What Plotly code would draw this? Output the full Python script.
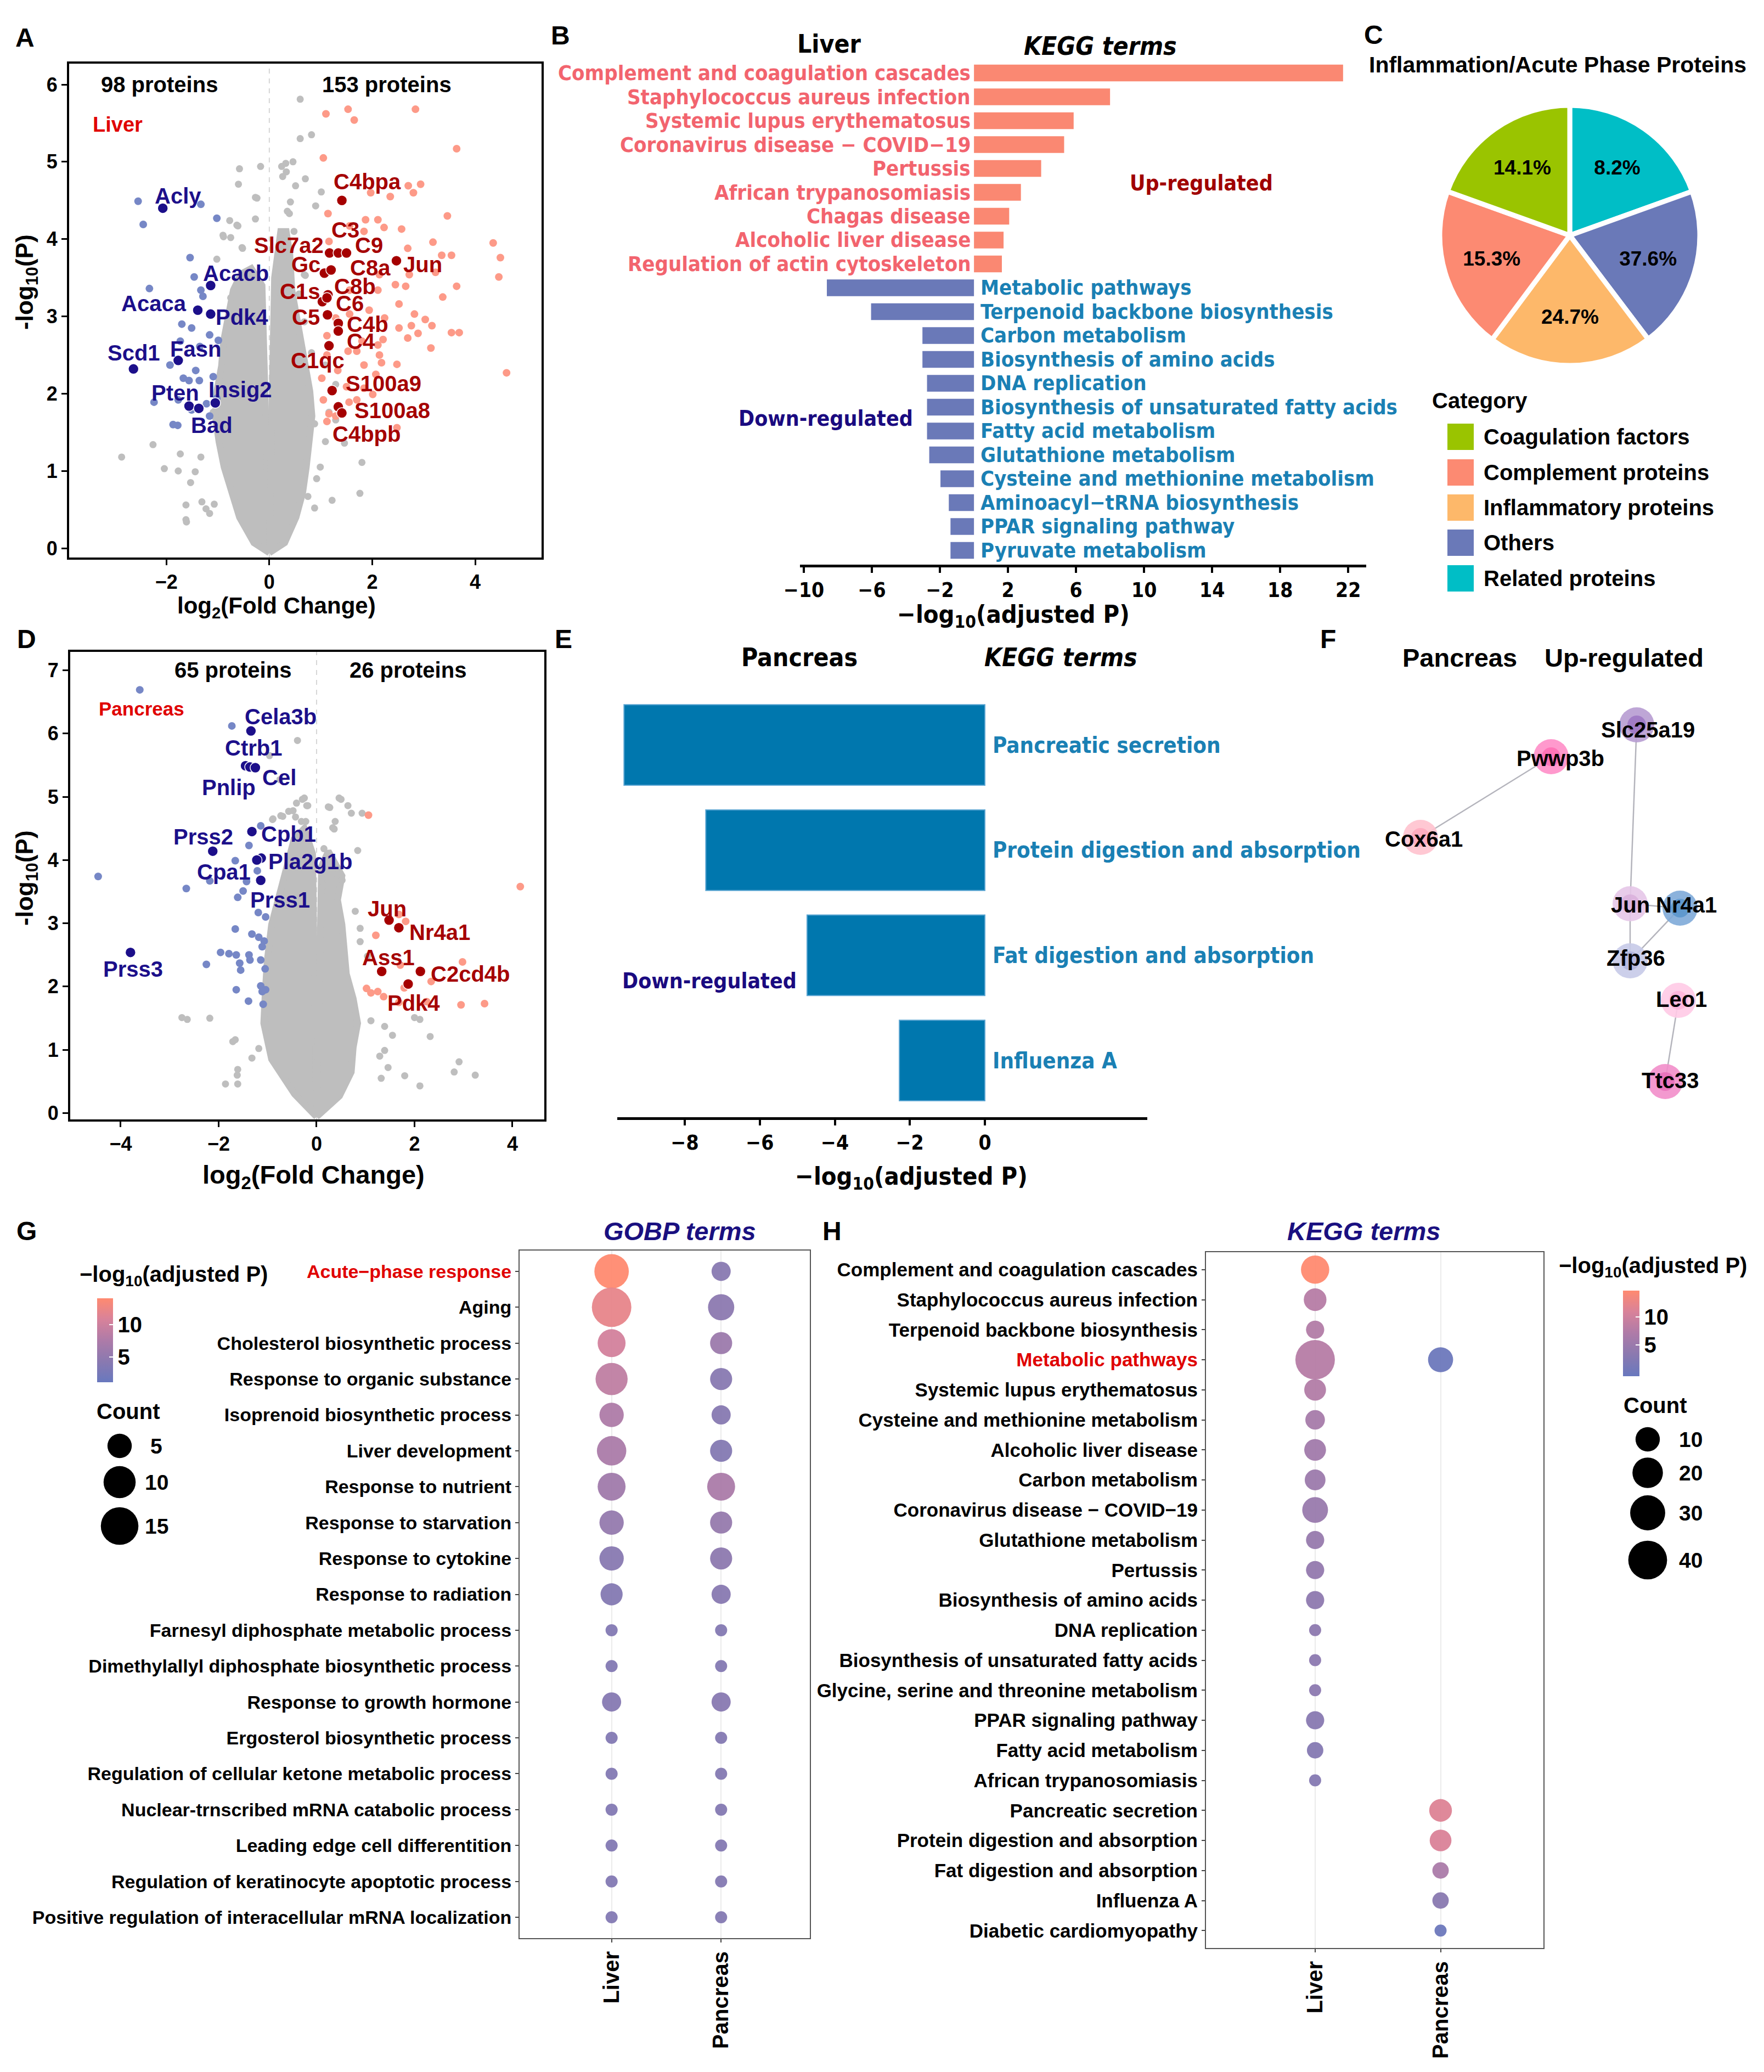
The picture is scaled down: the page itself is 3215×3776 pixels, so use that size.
import math
import plotly.graph_objects as go

W, H = 3215, 3776
def px(x): return x / W
def py(y): return 1 - y / H

SANS = "Liberation Sans, Arial, Helvetica, sans-serif"
NARROW = "DejaVu Sans Condensed, Liberation Sans Narrow, sans-serif"
NAVY = "#1C0F8A"; DARKRED = "#A50000"; RED = "#E00000"
GREY = "#BEBEBE"; LIGHTBLUE = "#7687C6"; SALMON = "#FD9A88"

# ---------------- Panel A data (liver volcano) ----------------
a_cloud_left = [(0, -0.06), (-0.30, 0.07), (-0.58, 0.40), (-0.72, 0.72), (-0.88, 1.05), (-0.98, 1.38), (-1.05, 1.71),
                (-1.02, 2.03), (-0.93, 2.36), (-0.89, 2.68), (-0.80, 3.01), (-0.70, 3.34), (-0.55, 3.55), (-0.35, 3.62),
                (-0.14, 3.40), (-0.10, 2.68), (-0.07, 1.71), (-0.03, 0.72), (0, 0.3)]
a_cloud_right = [(0, -0.06), (0.30, 0.07), (0.52, 0.40), (0.65, 0.72), (0.72, 1.05), (0.79, 1.38), (0.83, 1.71),
                 (0.79, 2.03), (0.70, 2.36), (0.61, 2.68), (0.52, 3.01), (0.44, 3.34), (0.40, 3.80), (0.33, 4.10),
                 (0.22, 4.10), (0.10, 3.50), (0.07, 2.50), (0.05, 1.50), (0.03, 0.70), (0, 0.3)]
a_grey = [(0.60, 5.81), (0.60, 5.30), (0.82, 5.35), (-0.17, 4.94), (-0.58, 4.91), (-0.60, 4.71), (0.46, 5.00), (0.26, 4.81),
          (0.33, 4.87), (0.70, 4.78), (-0.24, 4.53), (1.01, 4.61), (0.90, 4.43), (-0.77, 4.24), (-0.61, 4.17), (-0.90, 4.05),
          (-0.75, 4.02), (-0.52, 3.88), (0.39, 4.33), (0.48, 4.10), (0.41, 4.48), (-2.87, 1.18), (-2.26, 1.34), (-2.04, 1.03),
          (-1.77, 1.00), (-1.73, 1.22), (-1.61, 0.34), (1.80, 1.11), (1.76, 0.71), (1.22, 0.62), (0.92, 0.90), (0.99, 1.05),
          (1.09, 1.38), (1.46, 1.36), (0.88, 0.52), (0.75, 0.67), (-1.16, 0.45), (-1.31, 0.60), (-1.53, 0.85), (-1.33, 1.18),
          (-1.07, 0.57), (1.16, 1.76), (1.29, 2.12), (0.68, 3.54), (0.58, 3.29), (0.75, 2.02), (0.88, 1.61), (-0.95, 2.02),
          (-1.09, 1.76), (-0.88, 1.51), (-1.02, 3.74), (-0.48, 3.54), (-0.75, 3.24), (0.54, 2.68), (0.68, 2.93), (0.82, 2.53),
          (1.09, 2.37), (1.29, 1.66), (-0.27, 4.54), (0.24, 4.94), (0.32, 4.98), (0.51, 4.69), (0.35, 4.36), (-0.27, 4.26),
          (-0.63, 4.18), (-0.89, 4.03), (-0.53, 3.89), (0.22, 3.63), (0.70, 3.53), (-1.62, 0.56), (-1.62, 0.37), (-1.23, 0.51),
          (-1.44, 0.99)]
a_down_light = [(-2.55, 4.49), (-2.45, 4.19), (-1.33, 4.45), (-1.02, 4.27), (-1.54, 3.76), (-2.33, 3.36), (-1.33, 3.34),
                (-1.46, 3.51), (-1.70, 2.90), (-1.51, 2.85), (-1.16, 2.76), (-0.99, 2.69), (-1.73, 2.68), (-1.35, 2.61),
                (-1.93, 2.37), (-1.67, 2.20), (-1.56, 2.17), (-1.36, 2.17), (-1.09, 2.22), (-1.43, 2.30), (-2.24, 1.89),
                (-1.77, 1.92), (-1.51, 1.79), (-1.22, 1.87), (-1.02, 1.94), (-1.87, 1.60), (-1.78, 1.59), (-1.16, 1.71),
                (-1.29, 3.26), (-1.16, 3.03)]
a_up_light = [(1.10, 5.62), (1.53, 5.68), (1.65, 5.54), (2.84, 5.68), (1.05, 5.05), (3.64, 5.17), (2.70, 4.69), (2.94, 4.71),
              (2.80, 4.60), (2.35, 4.55), (1.97, 4.60), (1.14, 4.33), (1.87, 4.25), (2.11, 4.25), (3.46, 4.30), (1.56, 4.17),
              (1.84, 4.10), (2.23, 4.15), (2.57, 4.13), (1.16, 3.97), (2.69, 3.88), (3.18, 3.96), (4.35, 3.95), (3.35, 3.79),
              (3.54, 3.79), (4.49, 3.76), (4.46, 3.51), (2.14, 3.54), (2.72, 3.54), (3.23, 3.57), (3.64, 3.39), (2.45, 3.41),
              (2.65, 3.39), (2.11, 3.34), (3.37, 3.25), (1.56, 3.34), (2.52, 3.16), (2.82, 3.03), (3.03, 2.96), (3.16, 2.88),
              (2.76, 2.88), (2.52, 2.85), (3.54, 2.79), (3.69, 2.79), (2.89, 2.78), (2.69, 2.72), (2.21, 2.70), (2.11, 2.63),
              (1.80, 2.68), (1.53, 2.55), (1.70, 2.55), (3.14, 2.59), (2.14, 2.50), (2.18, 2.40), (2.48, 2.38), (1.84, 2.37),
              (1.12, 2.75), (1.12, 2.50), (1.33, 2.30), (4.61, 2.27), (2.07, 2.25), (1.02, 2.20), (1.50, 2.09), (1.84, 2.07),
              (2.01, 1.99), (1.70, 1.92), (1.05, 1.92), (1.16, 1.74), (1.55, 1.89), (2.48, 1.56), (1.12, 1.64), (1.29, 1.71),
              (1.56, 3.03), (1.29, 2.98), (1.94, 3.08), (2.24, 2.98)]
a_down_genes = ["Acly", "Acacb", "Acaca", "Pdk4", "Scd1", "Fasn", "Pten", "Bad", "Insig2"]
a_down_x = [-2.07, -1.14, -1.39, -1.14, -2.64, -1.77, -1.56, -1.37, -1.05]
a_down_y = [4.40, 3.40, 3.08, 3.03, 2.32, 2.43, 1.84, 1.81, 1.88]
a_up_genes = ["C4bpa", "Slc7a2", "C3", "C9", "Gc", "C8a", "Jun", "C8b", "C1s", "C6", "C5", "C4b", "C4", "C1qc",
              "S100a9", "S100a8", "C4bpb"]
a_up_x = [1.41, 1.17, 1.34, 1.50, 1.07, 1.20, 2.47, 1.14, 1.03, 1.12, 1.13, 1.34, 1.34, 1.16, 1.22, 1.34, 1.41]
a_up_y = [4.50, 3.82, 3.82, 3.82, 3.56, 3.60, 3.72, 3.28, 3.19, 3.24, 3.02, 2.91, 2.81, 2.62, 2.04, 1.83, 1.75]

# ---------------- Panel D data (pancreas volcano) ----------------
d_cloud_left = [(0, -0.06), (-0.45, 0.30), (-0.92, 0.85), (-1.08, 1.42), (-1.05, 1.90), (-1.01, 2.40), (-0.92, 2.98),
                (-0.73, 3.56), (-0.60, 3.95), (-0.46, 4.33), (-0.25, 4.50), (-0.08, 4.10), (-0.06, 3.00), (-0.04, 2.00),
                (-0.02, 1.00), (0, 0.4)]
d_cloud_right = [(0, -0.06), (0.47, 0.27), (0.71, 0.65), (0.75, 1.04), (0.84, 1.42), (0.75, 1.81), (0.61, 2.20),
                 (0.56, 2.59), (0.52, 2.98), (0.43, 3.37), (0.52, 3.75), (0.24, 4.14), (0.10, 3.90), (0.08, 3.00),
                 (0.06, 2.00), (0.03, 1.00), (0, 0.4)]
d_grey = [(-0.39, 5.89), (-0.96, 5.65), (-0.75, 5.27), (-0.25, 4.98), (-0.18, 4.86), (0.46, 4.98), (0.27, 4.83), (0.64, 4.86),
          (0.93, 4.74), (0.38, 4.61), (0.36, 4.49), (-0.43, 4.68), (-0.57, 4.77), (-0.89, 4.65), (-0.69, 4.69), (0.84, 4.15),
          (-1.05, 1.46), (-2.75, 1.51), (-2.64, 1.48), (-2.18, 1.50), (-1.71, 1.13), (-1.66, 1.16), (-1.61, 0.69), (-1.62, 0.60),
          (-1.61, 0.46), (-1.86, 0.46), (-1.32, 0.87), (-1.18, 1.02), (0.79, 3.19), (0.89, 2.92), (0.89, 2.71), (1.04, 2.48),
          (2.00, 1.51), (2.11, 1.48), (2.32, 1.21), (2.91, 0.81), (2.81, 0.65), (3.24, 0.60), (2.11, 0.43), (1.80, 0.59),
          (1.55, 1.23), (1.39, 0.99), (1.46, 0.72), (1.32, 0.55), (1.11, 1.46), (1.39, 1.37), (1.29, 0.90), (-0.29, 4.96),
          (-0.20, 4.86), (-0.41, 4.90), (0.24, 4.84), (0.50, 4.96), (0.71, 4.74), (0.33, 4.51), (-0.48, 4.78), (-0.73, 4.70),
          (-0.90, 4.64), (-0.31, 4.61), (-0.22, 4.61), (0.15, 4.18), (0.43, 3.77), (0.52, 3.68), (0.15, 3.60)]
d_down_light = [(-3.61, 6.69), (-1.73, 6.12), (-4.46, 3.74), (-2.66, 3.55), (-1.66, 3.99), (-1.38, 4.23), (-1.14, 4.54),
                (-2.18, 3.67), (-1.61, 3.41), (-1.50, 3.51), (-1.43, 3.66), (-1.21, 3.83), (-1.19, 3.17), (-1.04, 3.10),
                (-1.66, 2.91), (-1.32, 2.83), (-1.18, 2.78), (-1.07, 2.72), (-1.11, 2.63), (-1.96, 2.54), (-1.79, 2.52),
                (-1.64, 2.50), (-1.38, 2.50), (-1.36, 2.42), (-1.14, 2.42), (-2.25, 2.35), (-1.57, 2.37), (-1.55, 2.26),
                (-1.05, 2.28), (-1.14, 2.01), (-1.04, 1.95), (-1.64, 1.95), (-1.39, 1.77), (-1.09, 1.72), (-1.11, 1.92)]
d_up_light = [(1.06, 4.71), (4.16, 3.58), (1.68, 3.14), (1.82, 3.03), (1.21, 2.81), (1.71, 2.34), (2.98, 2.39), (2.34, 2.08),
              (1.02, 1.97), (1.11, 1.90), (1.25, 1.92), (1.37, 1.84), (1.79, 1.98), (1.68, 1.75), (2.95, 1.71), (3.43, 1.73),
              (2.25, 1.76)]
d_down_genes = ["Cela3b", "Ctrb1", "Pnlip", "Cel", "Cpb1", "Prss2", "Pla2g1b", "Cpa1", "Prss1", "Prss3"]
d_down_x = [-1.34, -1.45, -1.36, -1.25, -1.32, -2.12, -1.13, -1.22, -1.14, -3.80]
d_down_y = [6.04, 5.49, 5.47, 5.46, 4.45, 4.14, 4.03, 4.00, 3.68, 2.54]
d_up_genes = ["Jun", "Nr4a1", "Ass1", "C2cd4b", "Pdk4"]
d_up_x = [1.48, 1.68, 1.33, 2.12, 1.87]
d_up_y = [3.05, 2.93, 2.24, 2.24, 2.04]

# ---------------- Panel B data ----------------
b_terms = ["Complement and coagulation cascades", "Staphylococcus aureus infection", "Systemic lupus erythematosus",
           "Coronavirus disease − COVID−19", "Pertussis", "African trypanosomiasis", "Chagas disease",
           "Alcoholic liver disease", "Regulation of actin cytoskeleton", "Metabolic pathways",
           "Terpenoid backbone biosynthesis", "Carbon metabolism", "Biosynthesis of amino acids", "DNA replication",
           "Biosynthesis of unsaturated fatty acids", "Fatty acid metabolism", "Glutathione metabolism",
           "Cysteine and methionine metabolism", "Aminoacyl−tRNA biosynthesis", "PPAR signaling pathway",
           "Pyruvate metabolism"]
b_values = [21.7, 8.0, 5.86, 5.30, 3.95, 2.76, 2.07, 1.74, 1.64, -8.65, -6.05, -3.03, -3.03, -2.76, -2.76, -2.76,
            -2.63, -1.97, -1.48, -1.38, -1.38]
b_ticks = [-10, -6, -2, 2, 6, 10, 14, 18, 22]

# ---------------- Panel C data ----------------
pie_categories = ["Coagulation factors", "Complement proteins", "Inflammatory proteins", "Others", "Related proteins"]
pie_percent_labels = ["14.1%", "15.3%", "24.7%", "37.6%", "8.2%"]
pie_slice_sizes = [19.5, 20.3, 20.5, 20.2, 19.5]
pie_colors = ["#9AC400", "#FC8A72", "#FDB86A", "#6A79B8", "#00BEC6"]

# ---------------- Panel E data ----------------
e_terms = ["Pancreatic secretion", "Protein digestion and absorption", "Fat digestion and absorption", "Influenza A"]
e_values = [-9.62, -7.44, -4.74, -2.28]
e_ticks = [-8, -6, -4, -2, 0]

# ---------------- Panel F data (network) ----------------
net_nodes = ["Slc25a19", "Pwwp3b", "Cox6a1", "Jun", "Nr4a1", "Zfp36", "Leo1", "Ttc33"]
net_x = [2983, 2827, 2589, 2971, 3062, 2971, 3059, 3035]
net_y = [1321, 1379, 1526, 1647, 1655, 1751, 1823, 1971]
net_edges = [("Cox6a1", "Pwwp3b"), ("Slc25a19", "Jun"), ("Jun", "Nr4a1"), ("Jun", "Zfp36"), ("Zfp36", "Nr4a1"),
             ("Leo1", "Ttc33")]
net_outer = ["#B79CD2", "#FF8EC8", "#FFC2CE", "#E6C6E8", "#7EAAD8", "#C6CAE8", "#FFCAE6", "#F28ECA"]
net_inner = ["#9A72C2", "#FF6AB2", "#FFA6BC", "#D8AEDB", "#5592CA", "#AEB2DC", "#FFB0D8", "#E86CB8"]

# ---------------- Panel G data ----------------
g_terms = ["Acute−phase response", "Aging", "Cholesterol biosynthetic process", "Response to organic substance",
           "Isoprenoid biosynthetic process", "Liver development", "Response to nutrient", "Response to starvation",
           "Response to cytokine", "Response to radiation", "Farnesyl diphosphate metabolic process",
           "Dimethylallyl diphosphate biosynthetic process", "Response to growth hormone",
           "Ergosterol biosynthetic process", "Regulation of cellular ketone metabolic process",
           "Nuclear-trnscribed mRNA catabolic process", "Leading edge cell differentition",
           "Regulation of keratinocyte apoptotic process", "Positive regulation of interacellular mRNA localization"]
g_liver_count = [12, 17, 7, 10, 5, 8, 7, 5, 5, 4, 2, 2, 3, 2, 2, 2, 2, 2, 2]
g_pancreas_count = [3, 6, 4, 4, 3, 4, 7, 4, 4, 3, 2, 2, 3, 2, 2, 2, 2, 2, 2]
g_liver_logp = [14.1, 12.1, 10.5, 8.9, 7.6, 7.3, 6.3, 5.3, 4.2, 3.8, 3.7, 3.7, 4.0, 3.7, 3.7, 3.7, 3.7, 3.7, 3.7]
g_pancreas_logp = [4.2, 4.5, 6.0, 4.2, 4.1, 3.8, 7.3, 5.4, 4.6, 4.2, 3.8, 3.8, 4.2, 3.8, 3.8, 3.8, 3.8, 3.8, 3.8]
g_count_breaks = [5, 10, 15]

# ---------------- Panel H data ----------------
h_terms = ["Complement and coagulation cascades", "Staphylococcus aureus infection", "Terpenoid backbone biosynthesis",
           "Metabolic pathways", "Systemic lupus erythematosus", "Cysteine and methionine metabolism",
           "Alcoholic liver disease", "Carbon metabolism", "Coronavirus disease − COVID−19", "Glutathione metabolism",
           "Pertussis", "Biosynthesis of amino acids", "DNA replication", "Biosynthesis of unsaturated fatty acids",
           "Glycine, serine and threonine metabolism", "PPAR signaling pathway", "Fatty acid metabolism",
           "African trypanosomiasis", "Pancreatic secretion", "Protein digestion and absorption",
           "Fat digestion and absorption", "Influenza A", "Diabetic cardiomyopathy"]
h_liver_count = [16, 8, 4, 42, 7, 5, 7, 6, 12, 4, 4, 4, 2, 2, 2, 4, 3, 2, None, None, None, None, None]
h_pancreas_count = [None, None, None, 11] + [None] * 14 + [8, 7, 3, 3, 2]
h_liver_logp = [14.6, 7.8, 7.4, 7.8, 7.4, 6.3, 5.7, 5.2, 4.9, 4.6, 4.2, 3.7, 3.6, 3.5, 3.5, 3.1, 2.7, 2.7,
                None, None, None, None, None]
h_pancreas_logp = [None, None, None, 0.0] + [None] * 14 + [11.3, 11.0, 6.7, 3.2, 0.1]
h_count_breaks = [10, 20, 30, 40]

DOT_CS = [[0, "#6878BE"], [0.25, "#8A79B0"], [0.5, "#AE7BA8"], [0.75, "#D8829A"], [1, "#FF8A70"]]

# ======================================================================
fig = go.Figure()
annotations = []
shapes = []


def text(x, y, s, size, color="black", family=SANS, xanchor="center", yanchor="middle", angle=0,
         italic=False, xref="paper", yref="paper", bold=True):
    if xref == "paper":
        x = px(x)
    if yref == "paper":
        y = py(y)
    annotations.append(dict(x=x, y=y, xref=xref, yref=yref, text=s, showarrow=False, xanchor=xanchor,
                            yanchor=yanchor, textangle=angle,
                            font=dict(size=size, color=color, family=family,
                                      weight="bold" if bold else "normal",
                                      style="italic" if italic else "normal")))


def pts(trace_pts, xa, ya, color, size, line=None):
    fig.add_trace(go.Scatter(x=[p[0] for p in trace_pts], y=[p[1] for p in trace_pts], mode="markers",
                             marker=dict(color=color, size=size, opacity=1, line=line or dict(width=0)),
                             xaxis=xa, yaxis=ya, hoverinfo="skip", showlegend=False))


def volcano(xa, ya, cl, cr, grey, dl, ul, dg, dx, dy, ug, ux, uy, dlab, ulab):
    for poly in (cl, cr):
        fig.add_trace(go.Scatter(x=[p[0] for p in poly] + [poly[0][0]], y=[p[1] for p in poly] + [poly[0][1]],
                                 mode="lines", fill="toself", fillcolor=GREY, line=dict(color=GREY, width=12),
                                 xaxis=xa, yaxis=ya, hoverinfo="skip", showlegend=False))
    pts(grey, xa, ya, GREY, 13)
    pts(dl, xa, ya, LIGHTBLUE, 14)
    pts(ul, xa, ya, SALMON, 14)
    pts(list(zip(dx, dy)), xa, ya, NAVY, 19, dict(color="white", width=1.5))
    pts(list(zip(ux, uy)), xa, ya, DARKRED, 19, dict(color="white", width=1.5))
    for g, (lx, ly) in zip(dg, dlab):
        text(lx, ly, g, 40, NAVY, xref=xa, yref=ya)
    for g, (lx, ly) in zip(ug, ulab):
        text(lx, ly, g, 40, DARKRED, xref=xa, yref=ya)
    shapes.append(dict(type="line", xref=xa, yref=ya + " domain", x0=0, x1=0, y0=0, y1=1,
                       line=dict(color="#D6D6D6", width=2, dash="dash"), layer="below"))


# label placements (layout only)
a_down_lab = [(-1.77, 4.56), (-0.65, 3.56), (-2.24, 3.17), (-0.53, 2.99), (-2.63, 2.53), (-1.43, 2.58),
              (-1.83, 2.01), (-1.12, 1.59), (-0.56, 2.05)]
a_up_lab = [(1.90, 4.74), (0.38, 3.92), (1.48, 4.12), (1.94, 3.92), (0.71, 3.67), (1.96, 3.63), (2.98, 3.67),
            (1.66, 3.39), (0.59, 3.32), (1.56, 3.17), (0.71, 2.99), (1.91, 2.90), (1.78, 2.68), (0.94, 2.43),
            (2.22, 2.13), (2.39, 1.78), (1.89, 1.48)]
d_down_lab = [(-0.73, 6.27), (-1.29, 5.77), (-1.79, 5.15), (-0.76, 5.30), (-0.57, 4.41), (-2.31, 4.37),
              (-0.13, 3.98), (-1.89, 3.81), (-0.74, 3.37), (-3.75, 2.28)]
d_up_lab = [(1.44, 3.23), (2.52, 2.86), (1.47, 2.46), (3.14, 2.20), (1.98, 1.74)]

volcano("x", "y", a_cloud_left, a_cloud_right, a_grey, a_down_light, a_up_light, a_down_genes, a_down_x, a_down_y,
        a_up_genes, a_up_x, a_up_y, a_down_lab, a_up_lab)
volcano("x3", "y3", d_cloud_left, d_cloud_right, d_grey, d_down_light, d_up_light, d_down_genes, d_down_x, d_down_y,
        d_up_genes, d_up_x, d_up_y, d_down_lab, d_up_lab)

# ---------------- B bars ----------------
B_UP, B_DOWN = "#FA8872", "#6A79B8"
B_UP_TXT, B_DOWN_TXT = "#F2646E", "#1A80B4"
fig.add_trace(go.Bar(x=b_values, y=list(range(len(b_values))), orientation="h", width=0.7,
                     marker=dict(color=[B_UP if v > 0 else B_DOWN for v in b_values], line=dict(width=0)),
                     xaxis="x2", yaxis="y2", hoverinfo="skip", showlegend=False))
for i, (t, v) in enumerate(zip(b_terms, b_values)):
    if v > 0:
        annotations.append(dict(x=0, y=i, xref="x2", yref="y2", text=t, showarrow=False, xanchor="right",
                                yanchor="middle", xshift=-4,
                                font=dict(size=38, color=B_UP_TXT, family=NARROW, weight="bold")))
    else:
        annotations.append(dict(x=0, y=i, xref="x2", yref="y2", text=t, showarrow=False, xanchor="left",
                                yanchor="middle", xshift=10,
                                font=dict(size=38, color=B_DOWN_TXT, family=NARROW, weight="bold")))

# ---------------- E bars ----------------
fig.add_trace(go.Bar(x=e_values, y=list(range(len(e_values))), orientation="h", width=0.766,
                     marker=dict(color="#0077AE", line=dict(color="#5AA5D2", width=2)),
                     xaxis="x4", yaxis="y4", hoverinfo="skip", showlegend=False))
for i, t in enumerate(e_terms):
    annotations.append(dict(x=0, y=i, xref="x4", yref="y4", text=t, showarrow=False, xanchor="left",
                            yanchor="middle", xshift=12,
                            font=dict(size=40, color=B_DOWN_TXT, family=NARROW, weight="bold")))

# ---------------- C pie (drawn clockwise from 12 o'clock, legend order reversed) ----------------
fig.add_trace(go.Pie(values=pie_slice_sizes[::-1], labels=pie_categories[::-1], text=pie_percent_labels[::-1],
                     textinfo="text", textposition="inside", insidetextorientation="horizontal", sort=False,
                     direction="clockwise", rotation=0,
                     marker=dict(colors=pie_colors[::-1], line=dict(color="white", width=9)),
                     textfont=dict(size=37, family=SANS, color="black", weight="bold"),
                     domain=dict(x=[px(2624), px(3098)], y=[py(666), py(192)]),
                     hoverinfo="skip", showlegend=False))
leg_rows = [796, 861, 925, 989, 1054]
fig.add_trace(go.Scatter(x=[2662] * len(pie_categories), y=leg_rows, mode="markers",
                         marker=dict(symbol="square", size=48, color=pie_colors, opacity=1, line=dict(width=0)),
                         xaxis="x7", yaxis="y7", hoverinfo="skip", showlegend=False))
for cat, yy in zip(pie_categories, leg_rows):
    text(2702, yy, cat, 40, xanchor="left")
text(2608, 730, "Category", 40, xanchor="left")

# ---------------- F network ----------------
idx = {n: i for i, n in enumerate(net_nodes)}
ex, ey = [], []
for a, b in net_edges:
    ex += [net_x[idx[a]], net_x[idx[b]], None]
    ey += [net_y[idx[a]], net_y[idx[b]], None]
fig.add_trace(go.Scatter(x=ex, y=ey, mode="lines", line=dict(color="#B4B4BC", width=2.5),
                         xaxis="x7", yaxis="y7", hoverinfo="skip", showlegend=False))
fig.add_trace(go.Scatter(x=net_x, y=net_y, mode="markers", marker=dict(size=64, color=net_outer, opacity=0.9),
                         xaxis="x7", yaxis="y7", hoverinfo="skip", showlegend=False))
fig.add_trace(go.Scatter(x=net_x, y=net_y, mode="markers", marker=dict(size=34, color=net_inner, opacity=0.8),
                         xaxis="x7", yaxis="y7", hoverinfo="skip", showlegend=False))
net_label_shift = [(20, 9), (17, 3), (6, 3), (0, 2), (11, -6), (10, -5), (5, -2), (9, -2)]
for n, xx, yy, (sx, sy) in zip(net_nodes, net_x, net_y, net_label_shift):
    text(xx + sx, yy + sy, n, 40)


# ---------------- G / H dot plots ----------------
def dot_size(c, cmax_count):
    return 22 + 50 * math.sqrt((c - 2) / (cmax_count - 2))


def dotplot(xa, ya, liver_c, panc_c, liver_v, panc_v, cmax_count, cmin, cmax, cb):
    xs, ys, ss, cs = [], [], [], []
    for col, (cnts, vals) in enumerate(((liver_c, liver_v), (panc_c, panc_v)), start=1):
        for i, (c, v) in enumerate(zip(cnts, vals)):
            if c is None:
                continue
            xs.append(col); ys.append(i); ss.append(dot_size(c, cmax_count)); cs.append(v)
    fig.add_trace(go.Scatter(x=xs, y=ys, mode="markers",
                             marker=dict(size=ss, color=cs, colorscale=DOT_CS, cmin=cmin, cmax=cmax,
                                         showscale=True, line=dict(width=0), opacity=0.95, colorbar=cb),
                             xaxis=xa, yaxis=ya, hoverinfo="skip", showlegend=False))


def cbar(x0, y0, length, thick):
    return dict(thickness=thick, thicknessmode="pixels", len=length, lenmode="pixels",
                x=px(x0), xanchor="left", y=py(y0), yanchor="top", xpad=0, ypad=0, outlinewidth=0,
                tickvals=[5, 10], ticks="inside", ticklen=7, tickwidth=2, tickcolor="white",
                tickfont=dict(size=40, family=SANS, color="black", weight="bold"))


dotplot("x5", "y5", g_liver_count, g_pancreas_count, g_liver_logp, g_pancreas_logp, 17, 1.1, 14.1,
        cbar(177, 2366, 153, 29))
dotplot("x6", "y6", h_liver_count, h_pancreas_count, h_liver_logp, h_pancreas_logp, 42, -0.5, 14.6,
        cbar(2958, 2352, 156, 30))

# size legends
g_leg_y = [2635, 2701, 2781]
fig.add_trace(go.Scatter(x=[218] * 3, y=g_leg_y, mode="markers",
                         marker=dict(color="#000000", opacity=1, line=dict(width=0),
                                     size=[dot_size(c, 17) for c in g_count_breaks]),
                         xaxis="x7", yaxis="y7", hoverinfo="skip", showlegend=False))
for c, yy in zip(g_count_breaks, g_leg_y):
    text(285, yy, str(c), 39)
h_leg_y = [2623, 2684, 2757, 2843]
fig.add_trace(go.Scatter(x=[3003] * 4, y=h_leg_y, mode="markers",
                         marker=dict(color="#000000", opacity=1, line=dict(width=0),
                                     size=[dot_size(c, 42) for c in h_count_breaks]),
                         xaxis="x7", yaxis="y7", hoverinfo="skip", showlegend=False))
for c, yy in zip(h_count_breaks, h_leg_y):
    text(3081, yy, str(c), 39)

text(316, 2325, "−log<sub>10</sub>(adjusted P)", 40)
text(234, 2572, "Count", 40)
text(3012, 2309, "−log<sub>10</sub>(adjusted P)", 40)
text(3017, 2561, "Count", 40)

# ---------------- texts ----------------
for letter, x, y in [("A", 45, 68), ("B", 1021, 65), ("C", 2503, 64), ("D", 48, 1164), ("E", 1027, 1164),
                     ("F", 2420, 1164), ("G", 48, 2243), ("H", 1516, 2243)]:
    text(x, y, letter, 48)

text(290, 154, "98 proteins", 40)
text(705, 154, "153 proteins", 40)
text(214, 227, "Liver", 38, RED)
text(504, 1106, "log<sub>2</sub>(Fold Change)", 42)
text(48, 514, "-log<sub>10</sub>(P)", 44, angle=-90)

text(424, 1221, "65 proteins", 40)
text(743, 1221, "26 proteins", 40)
text(258, 1292, "Pancreas", 35, RED)
text(571, 2144, "log<sub>2</sub>(Fold Change)", 47)
text(48, 1600, "-log<sub>10</sub>(P)", 44, angle=-90)

text(1511, 80, "Liver", 46, family=NARROW)
text(2005, 84, "KEGG terms", 46, family=NARROW, italic=True)
text(2189, 333, "Up-regulated", 39, "#A00000", family=NARROW)
text(1505, 762, "Down-regulated", 39, "#1A0A80", family=NARROW)
text(1847, 1122, "−log<sub>10</sub>(adjusted P)", 45, family=NARROW)

text(2839, 118, "Inflammation/Acute Phase Proteins", 41)

text(1457, 1198, "Pancreas", 46, family=NARROW)
text(1933, 1198, "KEGG terms", 46, family=NARROW, italic=True)
text(1293, 1787, "Down-regulated", 39, "#1A0A80", family=NARROW)
text(1661, 2146, "−log<sub>10</sub>(adjusted P)", 45, family=NARROW)

text(2660, 1198, "Pancreas", 47)
text(2960, 1198, "Up-regulated", 47)

text(1239, 2243, "GOBP terms", 47, "#1A1080", italic=True)
text(2485, 2243, "KEGG terms", 47, "#1A1080", italic=True)

# ---------------- axes ----------------
vol = dict(showline=True, linecolor="black", linewidth=4, mirror=True, ticks="outside", ticklen=10, tickwidth=3,
           tickcolor="black", showgrid=False, zeroline=False,
           tickfont=dict(family=SANS, size=36, color="black", weight="bold"))
barx = dict(showline=True, linecolor="black", linewidth=5, ticks="outside", ticklen=10, tickwidth=4,
            tickcolor="black", showgrid=False, zeroline=False,
            tickfont=dict(family=NARROW, size=37, color="black", weight="bold"))
dotx = dict(showline=True, linecolor="#555555", linewidth=2, mirror=True, ticks="outside", ticklen=6, tickwidth=2,
            tickcolor="#444444", showgrid=True, gridcolor="#EBEBEB", gridwidth=2, zeroline=False,
            tickvals=[1, 2], ticktext=["Liver", "Pancreas"], tickangle=-90,
            tickfont=dict(family=SANS, size=40, color="black", weight="bold"))
doty = dict(showline=True, linecolor="#555555", linewidth=2, mirror=True, ticks="outside", ticklen=6, tickwidth=2,
            tickcolor="#444444", showgrid=False, zeroline=False,
            tickfont=dict(family=SANS, size=34, color="black", weight="bold"))


def red_first(terms, red_term):
    return ['<span style="color:#E00000">%s</span>' % t if t == red_term else t for t in terms]


layout = dict(
    width=W, height=H, margin=dict(l=0, r=0, t=0, b=0, pad=0), template="none",
    paper_bgcolor="white", plot_bgcolor="rgba(0,0,0,0)", showlegend=False,
    font=dict(family=SANS, color="black"),
    xaxis=dict(domain=[px(126), px(987)], range=[-3.89, 5.29], anchor="y", tickvals=[-2, 0, 2, 4], **vol),
    yaxis=dict(domain=[py(1016), py(116)], range=[-0.12, 6.27], anchor="x", tickvals=list(range(7)), **vol),
    xaxis3=dict(domain=[px(128), px(992)], range=[-5.03, 4.65], anchor="y3", tickvals=[-4, -2, 0, 2, 4], **vol),
    yaxis3=dict(domain=[py(2040), py(1188)], range=[-0.10, 7.29], anchor="x3", tickvals=list(range(8)), **vol),
    xaxis2=dict(domain=[px(1458), px(2490)], range=[-10.23, 23.06], anchor="y2", tickvals=b_ticks, **barx),
    yaxis2=dict(domain=[py(1029), py(100)], range=[20.6, -0.76], anchor="x2", visible=False),
    xaxis4=dict(domain=[px(1125), px(2091)], range=[-9.80, 4.33], anchor="y4", tickvals=e_ticks, **barx),
    yaxis4=dict(domain=[py(2036), py(1215)], range=[3.54, -0.745], anchor="x4", visible=False),
    xaxis5=dict(domain=[px(947), px(1476)], range=[0.16, 2.81], anchor="y5", **dotx),
    yaxis5=dict(domain=[py(3532), py(2279)], range=[18.58, -0.58], anchor="x5",
                tickvals=list(range(len(g_terms))), ticktext=red_first(g_terms, "Acute−phase response"), **doty),
    xaxis6=dict(domain=[px(2198), px(2813)], range=[0.13, 2.82], anchor="y6", **dotx),
    yaxis6=dict(domain=[py(3550), py(2282)], range=[22.58, -0.58], anchor="x6",
                tickvals=list(range(len(h_terms))), ticktext=red_first(h_terms, "Metabolic pathways"),
                tickfont=dict(family=SANS, size=35, color="black", weight="bold"),
                **{k: v for k, v in doty.items() if k != "tickfont"}),
    xaxis7=dict(domain=[0, 1], range=[0, W], anchor="y7", visible=False, fixedrange=True),
    yaxis7=dict(domain=[0, 1], range=[H, 0], anchor="x7", visible=False, fixedrange=True),
    annotations=annotations, shapes=shapes,
)
fig.update_layout(**layout)
fig.write_html("out.html", config={"displayModeBar": False},
               post_script="document.body.style.margin='0px';")
